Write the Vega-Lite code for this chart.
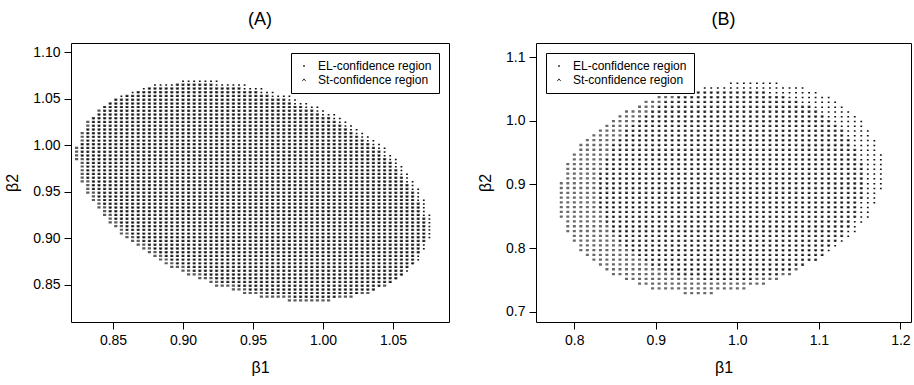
{
  "$schema": "https://vega.github.io/schema/vega-lite/v6.json",
  "padding": {"left": 4, "top": 10, "right": 2, "bottom": 2},
  "spacing": 27,
  "config": {
    "font": "Liberation Sans",
    "view": {"stroke": "black", "strokeWidth": 1},
    "axis": {"domain": false, "grid": false, "ticks": true, "tickColor": "black", "tickSize": 7, "labelColor": "black", "labelFontSize": 14, "labelPadding": 4, "titleFontSize": 16, "titleFontWeight": "normal", "titleColor": "black", "titlePadding": 12},
    "title": {"fontSize": 18, "fontWeight": "normal", "color": "black", "offset": 14}
  },
  "resolve": {"scale": {"shape": "independent"}, "legend": {"shape": "independent"}},
  "datasets": {
    "leg": [{"type": "EL-confidence region"}, {"type": "St-confidence region"}],
    "A": [
      {"x":0.824,"slo":0.984,"shi":1.000},
      {"x":0.828,"slo":0.960,"shi":1.016,"elo":0.988,"ehi":1.004},
      {"x":0.832,"slo":0.948,"shi":1.028,"elo":0.964,"ehi":1.020},
      {"x":0.836,"slo":0.940,"shi":1.032,"elo":0.952,"ehi":1.032},
      {"x":0.840,"slo":0.932,"shi":1.040,"elo":0.944,"ehi":1.036},
      {"x":0.844,"slo":0.924,"shi":1.044,"elo":0.936,"ehi":1.044},
      {"x":0.848,"slo":0.916,"shi":1.048,"elo":0.928,"ehi":1.048},
      {"x":0.852,"slo":0.912,"shi":1.052,"elo":0.920,"ehi":1.052},
      {"x":0.856,"slo":0.904,"shi":1.052,"elo":0.916,"ehi":1.056},
      {"x":0.860,"slo":0.900,"shi":1.056,"elo":0.908,"ehi":1.056},
      {"x":0.864,"slo":0.896,"shi":1.056,"elo":0.904,"ehi":1.060},
      {"x":0.868,"slo":0.892,"shi":1.060,"elo":0.900,"ehi":1.060},
      {"x":0.872,"slo":0.888,"shi":1.060,"elo":0.896,"ehi":1.064},
      {"x":0.876,"slo":0.884,"shi":1.064,"elo":0.892,"ehi":1.064},
      {"x":0.880,"slo":0.880,"shi":1.064,"elo":0.888,"ehi":1.068},
      {"x":0.884,"slo":0.876,"shi":1.064,"elo":0.884,"ehi":1.068},
      {"x":0.888,"slo":0.872,"shi":1.064,"elo":0.880,"ehi":1.068},
      {"x":0.892,"slo":0.868,"shi":1.064,"elo":0.876,"ehi":1.068},
      {"x":0.896,"slo":0.868,"shi":1.068,"elo":0.872,"ehi":1.068},
      {"x":0.900,"slo":0.864,"shi":1.068,"elo":0.872,"ehi":1.072},
      {"x":0.904,"slo":0.860,"shi":1.068,"elo":0.868,"ehi":1.072},
      {"x":0.908,"slo":0.860,"shi":1.068,"elo":0.864,"ehi":1.072},
      {"x":0.912,"slo":0.856,"shi":1.068,"elo":0.864,"ehi":1.072},
      {"x":0.916,"slo":0.856,"shi":1.068,"elo":0.860,"ehi":1.072},
      {"x":0.920,"slo":0.852,"shi":1.068,"elo":0.860,"ehi":1.072},
      {"x":0.924,"slo":0.848,"shi":1.064,"elo":0.856,"ehi":1.072},
      {"x":0.928,"slo":0.848,"shi":1.064,"elo":0.852,"ehi":1.068},
      {"x":0.932,"slo":0.848,"shi":1.064,"elo":0.852,"ehi":1.068},
      {"x":0.936,"slo":0.844,"shi":1.064,"elo":0.852,"ehi":1.068},
      {"x":0.940,"slo":0.844,"shi":1.064,"elo":0.848,"ehi":1.068},
      {"x":0.944,"slo":0.840,"shi":1.060,"elo":0.848,"ehi":1.068},
      {"x":0.948,"slo":0.840,"shi":1.060,"elo":0.844,"ehi":1.064},
      {"x":0.952,"slo":0.840,"shi":1.060,"elo":0.844,"ehi":1.064},
      {"x":0.956,"slo":0.836,"shi":1.056,"elo":0.844,"ehi":1.064},
      {"x":0.960,"slo":0.836,"shi":1.056,"elo":0.840,"ehi":1.060},
      {"x":0.964,"slo":0.836,"shi":1.052,"elo":0.840,"ehi":1.060},
      {"x":0.968,"slo":0.836,"shi":1.052,"elo":0.840,"ehi":1.056},
      {"x":0.972,"slo":0.836,"shi":1.052,"elo":0.840,"ehi":1.056},
      {"x":0.976,"slo":0.832,"shi":1.048,"elo":0.840,"ehi":1.056},
      {"x":0.980,"slo":0.832,"shi":1.044,"elo":0.836,"ehi":1.052},
      {"x":0.984,"slo":0.832,"shi":1.044,"elo":0.836,"ehi":1.048},
      {"x":0.988,"slo":0.832,"shi":1.040,"elo":0.836,"ehi":1.048},
      {"x":0.992,"slo":0.832,"shi":1.040,"elo":0.836,"ehi":1.044},
      {"x":0.996,"slo":0.832,"shi":1.036,"elo":0.836,"ehi":1.044},
      {"x":1.000,"slo":0.832,"shi":1.032,"elo":0.836,"ehi":1.040},
      {"x":1.004,"slo":0.832,"shi":1.032,"elo":0.836,"ehi":1.036},
      {"x":1.008,"slo":0.836,"shi":1.028,"elo":0.836,"ehi":1.036},
      {"x":1.012,"slo":0.836,"shi":1.024,"elo":0.840,"ehi":1.032},
      {"x":1.016,"slo":0.836,"shi":1.020,"elo":0.840,"ehi":1.028},
      {"x":1.020,"slo":0.836,"shi":1.016,"elo":0.840,"ehi":1.024},
      {"x":1.024,"slo":0.840,"shi":1.012,"elo":0.840,"ehi":1.020},
      {"x":1.028,"slo":0.840,"shi":1.008,"elo":0.844,"ehi":1.016},
      {"x":1.032,"slo":0.840,"shi":1.004,"elo":0.844,"ehi":1.012},
      {"x":1.036,"slo":0.844,"shi":1.000,"elo":0.844,"ehi":1.008},
      {"x":1.040,"slo":0.848,"shi":0.996,"elo":0.848,"ehi":1.004},
      {"x":1.044,"slo":0.848,"shi":0.988,"elo":0.852,"ehi":1.000},
      {"x":1.048,"slo":0.852,"shi":0.984,"elo":0.852,"ehi":0.992},
      {"x":1.052,"slo":0.856,"shi":0.976,"elo":0.856,"ehi":0.988},
      {"x":1.056,"slo":0.860,"shi":0.968,"elo":0.860,"ehi":0.980},
      {"x":1.060,"slo":0.868,"shi":0.960,"elo":0.864,"ehi":0.972},
      {"x":1.064,"slo":0.872,"shi":0.952,"elo":0.872,"ehi":0.964},
      {"x":1.068,"slo":0.884,"shi":0.940,"elo":0.876,"ehi":0.956},
      {"x":1.072,"slo":0.896,"shi":0.924,"elo":0.888,"ehi":0.944},
      {"x":1.076,"elo":0.900,"ehi":0.928}
    ],
    "B": [
      {"x":0.784,"slo":0.8475,"shi":0.9075},
      {"x":0.792,"slo":0.825,"shi":0.9375},
      {"x":0.800,"slo":0.81,"shi":0.9525},
      {"x":0.808,"slo":0.795,"shi":0.9675},
      {"x":0.816,"slo":0.7875,"shi":0.975},
      {"x":0.824,"slo":0.78,"shi":0.9825},
      {"x":0.832,"slo":0.7725,"shi":0.99,"elo":0.8625,"ehi":0.9225},
      {"x":0.840,"slo":0.765,"shi":0.9975,"elo":0.84,"ehi":0.945},
      {"x":0.848,"slo":0.7575,"shi":1.005,"elo":0.825,"ehi":0.9675},
      {"x":0.856,"slo":0.7575,"shi":1.0125,"elo":0.81,"ehi":0.975},
      {"x":0.864,"slo":0.75,"shi":1.02,"elo":0.8025,"ehi":0.99},
      {"x":0.872,"slo":0.75,"shi":1.02,"elo":0.795,"ehi":0.9975},
      {"x":0.880,"slo":0.7425,"shi":1.0275,"elo":0.7875,"ehi":1.005},
      {"x":0.888,"slo":0.7425,"shi":1.035,"elo":0.78,"ehi":1.0125},
      {"x":0.896,"slo":0.735,"shi":1.035,"elo":0.7725,"ehi":1.02},
      {"x":0.904,"slo":0.735,"shi":1.0425,"elo":0.7725,"ehi":1.0275},
      {"x":0.912,"slo":0.735,"shi":1.0425,"elo":0.765,"ehi":1.035},
      {"x":0.920,"slo":0.735,"shi":1.0425,"elo":0.765,"ehi":1.035},
      {"x":0.928,"slo":0.735,"shi":1.05,"elo":0.7575,"ehi":1.0425},
      {"x":0.936,"slo":0.7275,"shi":1.05,"elo":0.7575,"ehi":1.0425},
      {"x":0.944,"slo":0.7275,"shi":1.05,"elo":0.7575,"ehi":1.05},
      {"x":0.952,"slo":0.7275,"shi":1.05,"elo":0.7575,"ehi":1.05},
      {"x":0.960,"slo":0.7275,"shi":1.05,"elo":0.75,"ehi":1.0575},
      {"x":0.968,"slo":0.7275,"shi":1.05,"elo":0.75,"ehi":1.0575},
      {"x":0.976,"slo":0.735,"shi":1.05,"elo":0.75,"ehi":1.0575},
      {"x":0.984,"slo":0.735,"shi":1.05,"elo":0.75,"ehi":1.0575},
      {"x":0.992,"slo":0.735,"shi":1.05,"elo":0.75,"ehi":1.065},
      {"x":1.000,"slo":0.735,"shi":1.05,"elo":0.75,"ehi":1.065},
      {"x":1.008,"slo":0.735,"shi":1.05,"elo":0.75,"ehi":1.065},
      {"x":1.016,"slo":0.7425,"shi":1.05,"elo":0.75,"ehi":1.065},
      {"x":1.024,"slo":0.7425,"shi":1.05,"elo":0.7575,"ehi":1.065},
      {"x":1.032,"slo":0.7425,"shi":1.05,"elo":0.7575,"ehi":1.065},
      {"x":1.040,"slo":0.75,"shi":1.0425,"elo":0.7575,"ehi":1.065},
      {"x":1.048,"slo":0.75,"shi":1.0425,"elo":0.7575,"ehi":1.065},
      {"x":1.056,"slo":0.7575,"shi":1.0425,"elo":0.765,"ehi":1.0575},
      {"x":1.064,"slo":0.7575,"shi":1.035,"elo":0.765,"ehi":1.0575},
      {"x":1.072,"slo":0.765,"shi":1.035,"elo":0.7725,"ehi":1.0575},
      {"x":1.080,"slo":0.7725,"shi":1.0275,"elo":0.7725,"ehi":1.0575},
      {"x":1.088,"slo":0.78,"shi":1.0275,"elo":0.78,"ehi":1.05},
      {"x":1.096,"slo":0.78,"shi":1.02,"elo":0.78,"ehi":1.05},
      {"x":1.104,"slo":0.7875,"shi":1.0125,"elo":0.7875,"ehi":1.0425},
      {"x":1.112,"slo":0.8025,"shi":1.005,"elo":0.795,"ehi":1.0425},
      {"x":1.120,"slo":0.81,"shi":0.9975,"elo":0.8025,"ehi":1.035},
      {"x":1.128,"slo":0.8175,"shi":0.99,"elo":0.81,"ehi":1.0275},
      {"x":1.136,"slo":0.8325,"shi":0.975,"elo":0.8175,"ehi":1.02},
      {"x":1.144,"slo":0.8475,"shi":0.96,"elo":0.825,"ehi":1.0125},
      {"x":1.152,"slo":0.8775,"shi":0.9375,"elo":0.84,"ehi":1.005},
      {"x":1.160,"elo":0.8475,"ehi":0.99},
      {"x":1.168,"elo":0.87,"ehi":0.975},
      {"x":1.176,"elo":0.8925,"ehi":0.9525}
    ]
  },
  "hconcat": [
    {
      "width": 378,
      "height": 279,
      "title": "(A)",
      "layer": [
        {
          "data": {"name": "A"},
          "transform": [{"filter": "isValid(datum.slo)"}],
          "mark": {"type": "rule", "color": "#5c5c5c", "strokeWidth": 3.2, "strokeDash": [2.2, 1.52]},
          "encoding": {
            "x": {"field": "x", "type": "quantitative", "scale": {"domain": [0.82, 1.09], "nice": false, "zero": false}, "axis": {"values": [0.85, 0.9, 0.95, 1, 1.05], "format": ".2f", "title": "β1"}},
            "y": {"field": "slo", "type": "quantitative", "scale": {"domain": [0.81, 1.11], "nice": false, "zero": false}, "axis": {"values": [0.85, 0.9, 0.95, 1, 1.05, 1.1], "format": ".2f", "title": "β2"}},
            "y2": {"field": "shi"}
          }
        },
        {
          "data": {"name": "A"},
          "transform": [{"filter": "isValid(datum.elo)"}],
          "mark": {"type": "rule", "color": "#111111", "strokeWidth": 1.8, "strokeDash": [1.5, 2.22]},
          "encoding": {
            "x": {"field": "x", "type": "quantitative"},
            "y": {"field": "elo", "type": "quantitative"},
            "y2": {"field": "ehi"}
          }
        },
        {
          "data": {"name": "leg"},
          "mark": {"type": "point", "opacity": 0},
          "encoding": {
            "shape": {
              "field": "type", "type": "nominal",
              "scale": {"domain": ["EL-confidence region", "St-confidence region"], "range": ["M-0.3,0a0.3,0.3 0 1,0 0.6,0a0.3,0.3 0 1,0 -0.6,0", "M-0.8,0.5L0,-0.5L0.8,0.5"]},
              "legend": {"title": null, "orient": "top-right", "offset": 10, "strokeColor": "black", "fillColor": "white", "padding": 7, "labelFontSize": 12, "labelColor": "black", "symbolSize": 20, "symbolStrokeColor": "#333", "symbolFillColor": "transparent", "symbolStrokeWidth": 1, "symbolOpacity": 1, "rowPadding": 2, "labelOffset": 8}
            }
          }
        }
      ]
    },
    {
      "width": 375,
      "height": 279,
      "title": "(B)",
      "layer": [
        {
          "data": {"name": "B"},
          "transform": [{"filter": "isValid(datum.slo)"}],
          "mark": {"type": "rule", "color": "#6a6a6a", "strokeWidth": 3.0, "strokeDash": [2.3, 2.48]},
          "encoding": {
            "x": {"field": "x", "type": "quantitative", "scale": {"domain": [0.753, 1.213], "nice": false, "zero": false}, "axis": {"values": [0.8, 0.9, 1, 1.1, 1.2], "format": ".1f", "title": "β1"}},
            "y": {"field": "slo", "type": "quantitative", "scale": {"domain": [0.684, 1.122], "nice": false, "zero": false}, "axis": {"values": [0.7, 0.8, 0.9, 1, 1.1], "format": ".1f", "title": "β2"}},
            "y2": {"field": "shi"}
          }
        },
        {
          "data": {"name": "B"},
          "transform": [{"filter": "isValid(datum.elo)"}],
          "mark": {"type": "rule", "color": "#111111", "strokeWidth": 1.8, "strokeDash": [1.5, 3.28]},
          "encoding": {
            "x": {"field": "x", "type": "quantitative"},
            "y": {"field": "elo", "type": "quantitative"},
            "y2": {"field": "ehi"}
          }
        },
        {
          "data": {"name": "leg"},
          "mark": {"type": "point", "opacity": 0},
          "encoding": {
            "shape": {
              "field": "type", "type": "nominal",
              "scale": {"domain": ["EL-confidence region", "St-confidence region"], "range": ["M-0.3,0a0.3,0.3 0 1,0 0.6,0a0.3,0.3 0 1,0 -0.6,0", "M-0.8,0.5L0,-0.5L0.8,0.5"]},
              "legend": {"title": null, "orient": "top-left", "offset": 10, "strokeColor": "black", "fillColor": "white", "padding": 7, "labelFontSize": 12, "labelColor": "black", "symbolSize": 20, "symbolStrokeColor": "#333", "symbolFillColor": "transparent", "symbolStrokeWidth": 1, "symbolOpacity": 1, "rowPadding": 2, "labelOffset": 8}
            }
          }
        }
      ]
    }
  ]
}
